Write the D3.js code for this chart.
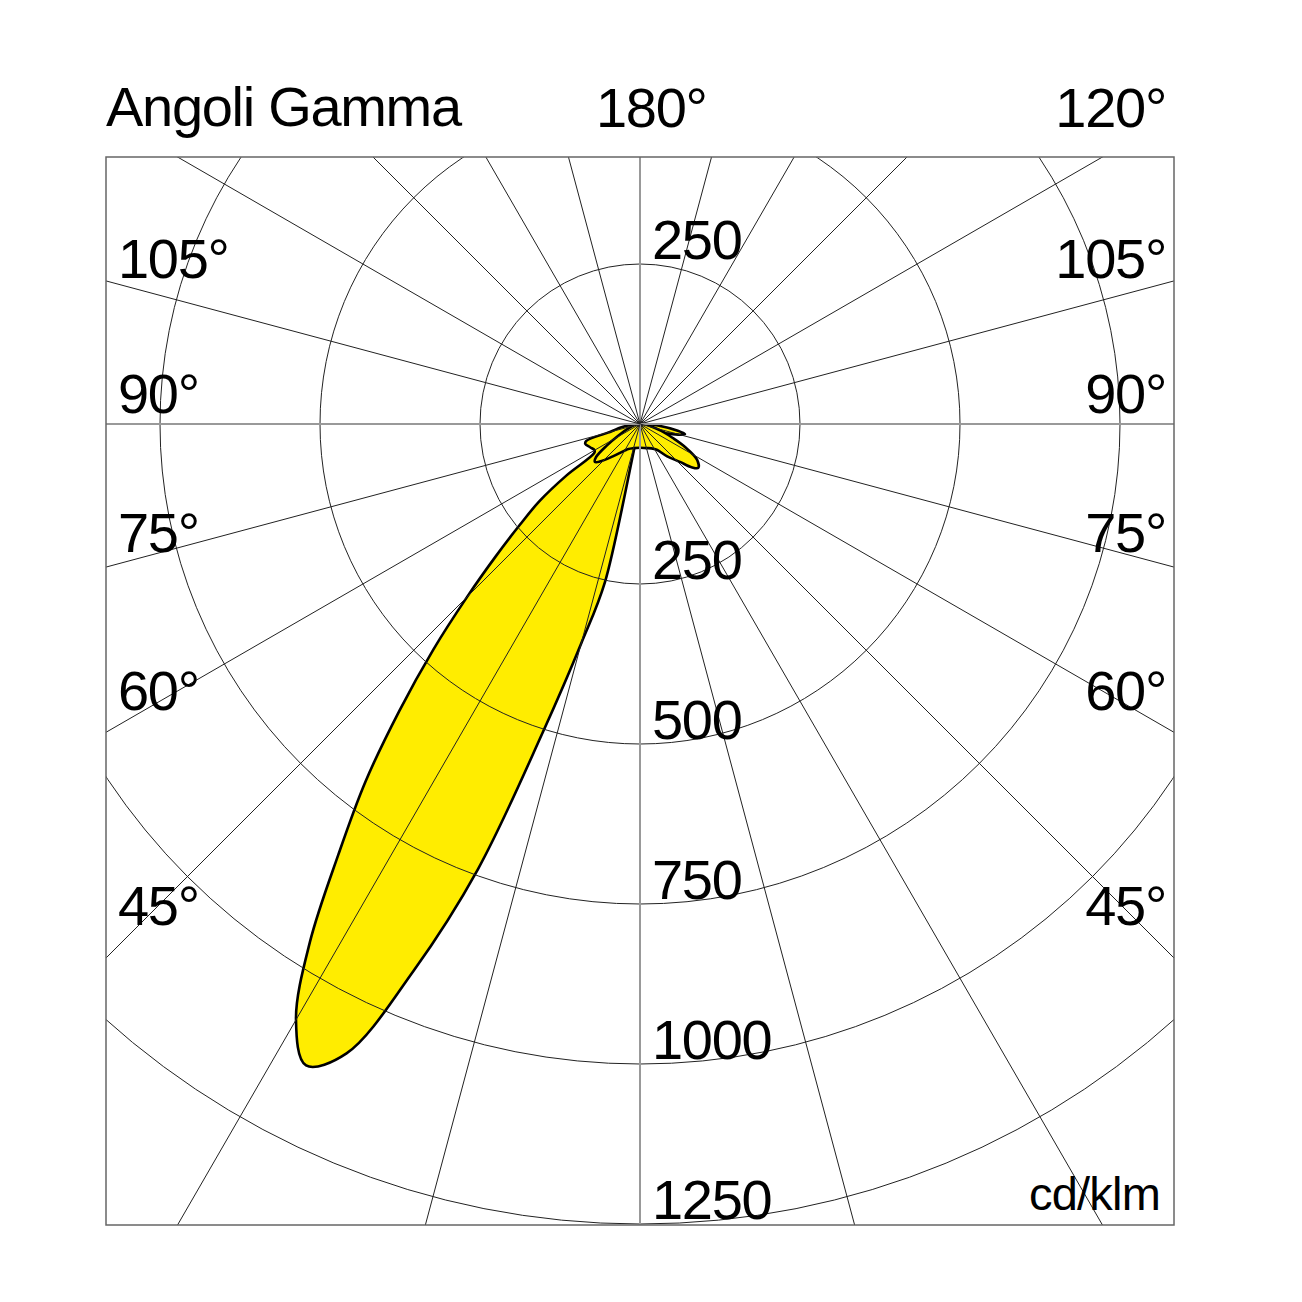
<!DOCTYPE html>
<html><head><meta charset="utf-8">
<script src="https://cdn.jsdelivr.net/npm/d3@7"></script>
<style>body{margin:0;background:#fff}</style>
</head><body><svg id="c" width="1302" height="1302"></svg>
<script>
// ---------- data ----------
const ringValues = [250, 500, 750, 1000, 1250];
const ringLabels = ["250", "500", "750", "1000", "1250"];
const spokeAngles = [0,15,30,45,60,75,90,105,120,135,150,165,180,195,210,225,240,255,270,285,300,315,330,345];
const sideAngleLabels = ["105°", "90°", "75°", "60°", "45°"];
const topLabels = ["180°", "120°"];
const titleText = "Angoli Gamma";
const unitText = "cd/klm";

// Curve A (C0 - C180 plane), gamma signed: + = left half, - = right half
const gammaA = [-180,-135,-105,-95,-90,-85,-80,-77.5,-75,-70,-65,-60,-45,-30,-15,-5,0,5,10,
  12.5,15,17.5,20,22.5,25,27.5,30,32.5,35,37.5,40,42.5,45,47.5,50,52.5,55,57.5,60,65,70,72.5,75,80,85,90,95,105,180];
const valuesA = [0,0,0,3,8,30,60,72,65,42,30,25,22,22,20,15,10,5,5,
  253,355,505,740,925,1085,1130,1075,960,822,705,585,478,382,305,245,198,140,85,82,86,91,88,52,28,14,6,2,0,0];

// Curve B (C90 - C270 plane)
const gammaB = [-180,-110,-95,-90,-80,-72,-67,-63,-58,-53,-50,-46.5,-40,-33,-25,-15,0,15,25,30,40,47,50,53,57,62,70,80,90,110,180];
const valuesB = [0,0,3,6,15,35,55,79,105,114,105,86,66,48,42,39,37,39,43,48,66,86,92,86,62,38,18,8,4,0,0];

// ---------- layout ----------
const W = 1302, cx = 640, cy = 424;
const frame = {x: 106, y: 157, w: 1068, h: 1068};
const sideBaselines = [278, 413, 552, 710, 925];
const FONT = "'Liberation Sans', Arial, Helvetica, sans-serif";

const svg = d3.select("#c");
svg.append("rect").attr("width", W).attr("height", W).attr("fill", "#fff");

svg.append("clipPath").attr("id", "fc").append("rect")
  .attr("x", frame.x).attr("y", frame.y).attr("width", frame.w).attr("height", frame.h);

const rScale = d3.scaleLinear().domain([0, 1250]).range([0, 800]);
const aScale = d3.scaleLinear().domain([-180, 180]).range([0, 2 * Math.PI]);

const gc = svg.append("g").attr("clip-path", "url(#fc)")
  .append("g").attr("transform", `translate(${cx},${cy})`);

const line = d3.lineRadial()
  .angle(d => aScale(d.g))
  .radius(d => rScale(d.v))
  .curve(d3.curveCatmullRomClosed.alpha(0.5));

const curveA = gammaA.map((a, i) => ({g: a, v: valuesA[i]}));
const curveB = gammaB.map((a, i) => ({g: a, v: valuesB[i]}));

gc.append("path").attr("d", line(curveA)).attr("fill", "#FFED00").attr("stroke", "#000")
  .attr("stroke-width", 2.6).attr("stroke-linejoin", "round");
gc.append("path").attr("d", line(curveB)).attr("fill", "#FFED00").attr("stroke", "#000")
  .attr("stroke-width", 2.6).attr("stroke-linejoin", "round");

// rings
gc.selectAll("circle.ring").data(ringValues).join("circle")
  .attr("class", "ring").attr("r", d => rScale(d))
  .attr("fill", "none").attr("stroke", "#222").attr("stroke-width", 1);

// spokes
gc.selectAll("line.spoke").data(spokeAngles).join("line")
  .attr("class", "spoke")
  .attr("x1", 0).attr("y1", 0)
  .attr("x2", d => d3.pointRadial(d * Math.PI / 180, 1400)[0])
  .attr("y2", d => d3.pointRadial(d * Math.PI / 180, 1400)[1])
  .attr("stroke", d => d % 90 === 0 ? "#999" : "#222")
  .attr("stroke-width", d => d % 90 === 0 ? 2 : 1);

// frame
svg.append("rect").attr("x", frame.x).attr("y", frame.y).attr("width", frame.w).attr("height", frame.h)
  .attr("fill", "none").attr("stroke", "#666").attr("stroke-width", 1.5);

// texts
const txt = (x, y, s, anchor, size, ls) => svg.append("text")
  .attr("x", x).attr("y", y).attr("text-anchor", anchor || "start")
  .attr("font-family", FONT).attr("font-size", size || 56)
  .attr("letter-spacing", ls || "-1.3px").attr("fill", "#000").text(s);

txt(106, 126, titleText, "start");
txt(596, 127, topLabels[0], "start");
txt(1166, 127, topLabels[1], "end");

sideAngleLabels.forEach((s, i) => {
  txt(118, sideBaselines[i], s, "start");
  txt(1166, sideBaselines[i], s, "end");
});

txt(652, cy - rScale(ringValues[0]) - 5, ringLabels[0], "start");
ringValues.forEach((v, i) => {
  txt(652, cy + rScale(v) - 5, ringLabels[i], "start");
});

txt(1160, 1210, unitText, "end", 47, "-0.8px");
</script></body></html>
